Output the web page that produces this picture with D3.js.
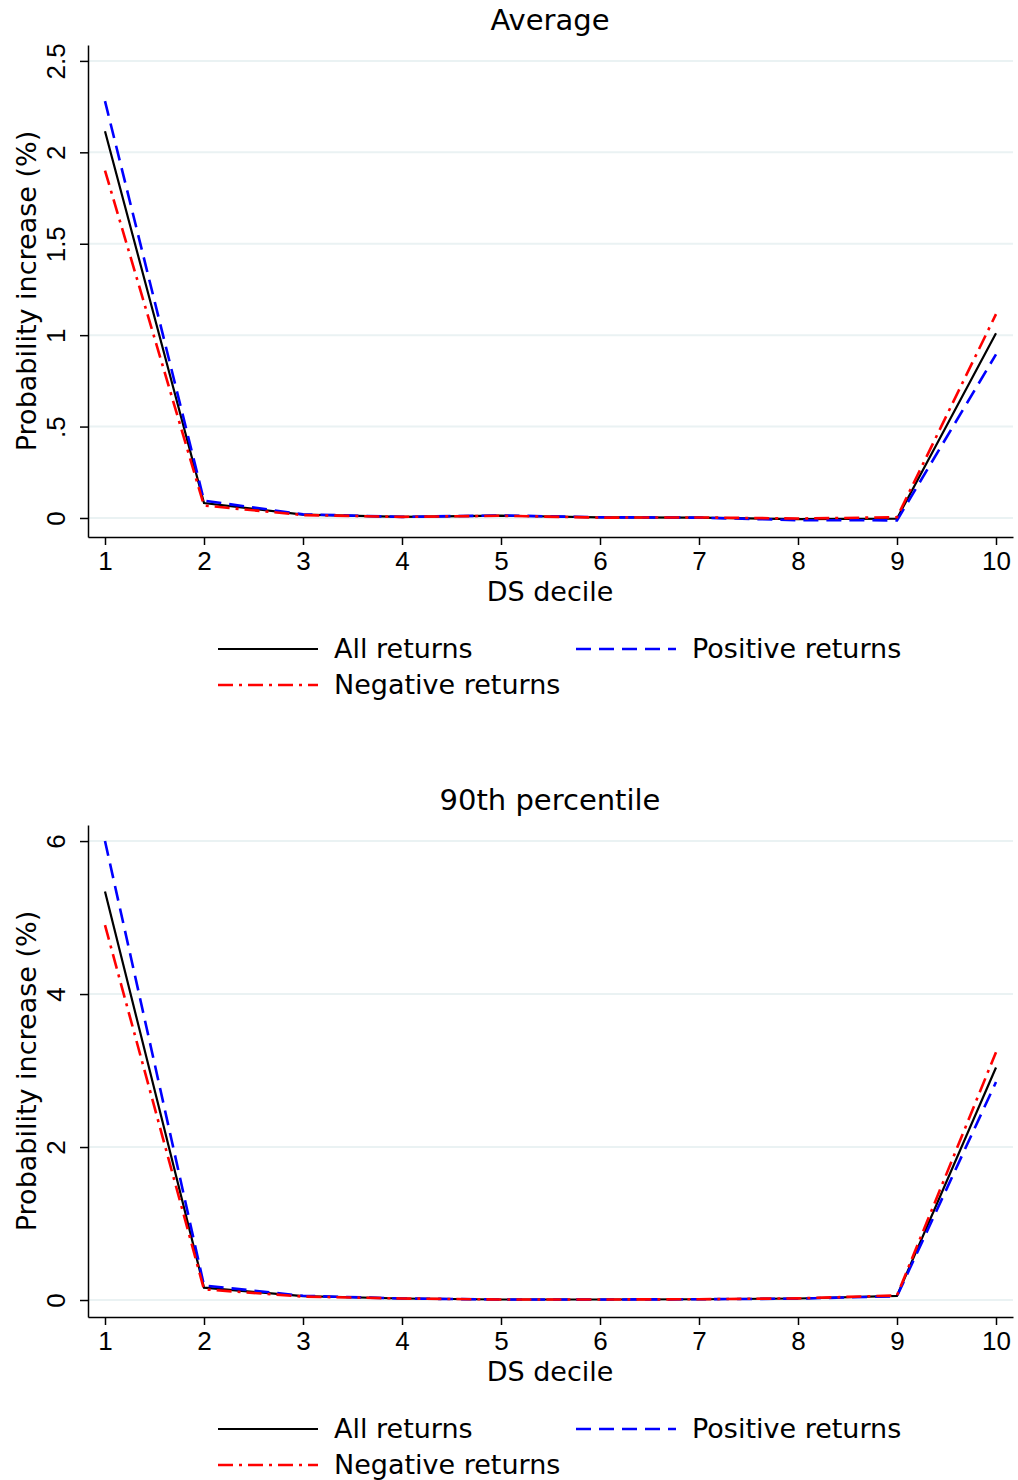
<!DOCTYPE html>
<html>
<head>
<meta charset="utf-8">
<script src="https://cdn.jsdelivr.net/npm/d3@7"></script>
<style>
  body { margin: 0; background: #fff; }
  svg { display: block; font-family: "DejaVu Sans", sans-serif; }
</style>
</head>
<body>
<svg id="chart"></svg>
<script>
// data
const deciles = [1, 2, 3, 4, 5, 6, 7, 8, 9, 10];

const avgAll = [2.115, 0.082, 0.018, 0.006, 0.013, 0.003, 0.002, -0.006, -0.003, 1.01];
const avgPos = [2.28, 0.095, 0.02, 0.006, 0.014, 0.004, 0.002, -0.012, -0.013, 0.895];
const avgNeg = [1.90, 0.068, 0.016, 0.006, 0.012, 0.002, 0.003, -0.003, 0.004, 1.115];

const p90All = [5.34, 0.162, 0.05, 0.02, 0.007, 0.007, 0.01, 0.02, 0.055, 3.04];
const p90Pos = [6.0, 0.19, 0.055, 0.02, 0.007, 0.007, 0.01, 0.018, 0.05, 2.85];
const p90Neg = [4.90, 0.14, 0.045, 0.02, 0.007, 0.007, 0.01, 0.022, 0.06, 3.24];

const avgTicks = [0, 0.5, 1, 1.5, 2, 2.5];
const avgTickLabels = ['0', '.5', '1', '1.5', '2', '2.5'];
const p90Ticks = [0, 2, 4, 6];
const p90TickLabels = ['0', '2', '4', '6'];

const seriesNames = ['All returns', 'Positive returns', 'Negative returns'];
const seriesColors = ['#000000', '#0000ff', '#ff0000'];
const seriesDash = [null, '15,8', '15,6,3,6'];

const W = 1018, H = 1480;
const svg = d3.select('#chart').attr('width', W).attr('height', H);

const x = d3.scaleLinear().domain([1, 10]).range([105, 996]);
const plotLeft = 88, plotRight = 1013;

function drawPanel(top, title, series, ticks, tickLabels, yDomain) {
  const g = svg.append('g').attr('transform', `translate(0,${top})`);
  const y = d3.scaleLinear().domain(yDomain).range([537, 45]);

  g.append('text')
    .attr('x', 550).attr('y', 30)
    .attr('text-anchor', 'middle')
    .style('font-size', '29px')
    .text(title);

  // grid
  g.selectAll('.grid').data(ticks).join('line')
    .attr('x1', plotLeft).attr('x2', plotRight)
    .attr('y1', d => y(d)).attr('y2', d => y(d))
    .attr('stroke', '#eaf2f3').attr('stroke-width', 2);

  // y axis
  const ya = g.append('g').attr('transform', `translate(${plotLeft},0)`)
    .call(d3.axisLeft(y).tickValues(ticks).tickFormat((d, i) => tickLabels[i])
      .tickSize(8).tickSizeOuter(0));
  ya.select('.domain').attr('stroke', '#000').attr('stroke-width', 1.5);
  ya.selectAll('.tick line').attr('stroke', '#000').attr('stroke-width', 1.5);
  ya.selectAll('.tick text')
    .attr('x', 0).attr('dy', null)
    .attr('transform', 'translate(-23,0) rotate(-90)')
    .attr('text-anchor', 'middle')
    .style('font-size', '26px').attr('fill', '#000').attr('font-family', null);

  g.append('text')
    .attr('transform', `translate(36,${(45 + 537) / 2}) rotate(-90)`)
    .attr('text-anchor', 'middle')
    .style('font-size', '27px')
    .text('Probability increase (%)');

  // x axis
  const xa = g.append('g').attr('transform', 'translate(0,537)')
    .call(d3.axisBottom(d3.scaleLinear().domain([x.invert(plotLeft), x.invert(plotRight)]).range([plotLeft, plotRight]))
      .tickValues(deciles).tickFormat(d3.format('d')).tickSize(8).tickSizeOuter(0).tickPadding(7));
  xa.select('.domain').attr('stroke', '#000').attr('stroke-width', 1.5);
  xa.selectAll('.tick line').attr('stroke', '#000').attr('stroke-width', 1.5);
  xa.selectAll('.tick text').style('font-size', '26px').attr('fill', '#000').attr('font-family', null);

  g.append('text')
    .attr('x', 550).attr('y', 601)
    .attr('text-anchor', 'middle')
    .style('font-size', '27px')
    .text('DS decile');

  const line = d3.line().x((d, i) => x(deciles[i])).y(d => y(d));
  series.forEach((s, k) => {
    g.append('path')
      .datum(s)
      .attr('d', line)
      .attr('fill', 'none')
      .attr('stroke', seriesColors[k])
      .attr('stroke-width', k === 0 ? 2.2 : 2.6)
      .attr('stroke-dasharray', seriesDash[k]);
  });

  // legend
  const legPos = [[218, 649], [576, 649], [218, 685]];
  seriesNames.forEach((name, k) => {
    const [lx, ly] = legPos[k];
    g.append('line')
      .attr('x1', lx).attr('x2', lx + 100)
      .attr('y1', ly).attr('y2', ly)
      .attr('stroke', seriesColors[k])
      .attr('stroke-width', k === 0 ? 2.2 : 2.6)
      .attr('stroke-dasharray', seriesDash[k]);
    g.append('text')
      .attr('x', lx + 116).attr('y', ly + 9)
      .style('font-size', '27px')
      .text(name);
  });
}

drawPanel(0, 'Average', [avgAll, avgPos, avgNeg], avgTicks, avgTickLabels, [-0.104, 2.587]);
drawPanel(780, '90th percentile', [p90All, p90Pos, p90Neg], p90Ticks, p90TickLabels, [-0.222, 6.21]);
</script>
</body>
</html>
